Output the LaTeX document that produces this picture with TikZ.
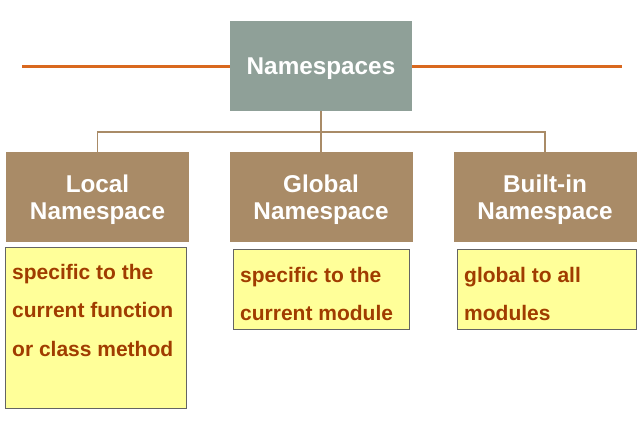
\documentclass[tikz,border=0pt]{standalone}
\usepackage{fontspec}
\setmainfont{Liberation Sans}
\usepackage{tikz}
\usetikzlibrary{positioning, calc}

\definecolor{headgray}{RGB}{143,160,152}
\definecolor{tanbrown}{RGB}{169,139,103}
\definecolor{noteyellow}{RGB}{255,255,153}
\definecolor{rustred}{RGB}{160,60,0}
\definecolor{rulecolor}{RGB}{217,104,30}

\begin{document}
\begin{tikzpicture}[x=1pt, y=-1pt,
  headbox/.style={rectangle, fill=headgray, text=white, inner sep=0pt,
    minimum width=182pt, minimum height=90pt, text depth=0pt,
    font=\bfseries\fontsize{24.3}{27}\selectfont},
  kindbox/.style={rectangle, fill=tanbrown, text=white, inner sep=0pt, align=center,
    minimum width=183pt, minimum height=90pt, text depth=0pt,
    font=\bfseries\fontsize{24.3}{27}\selectfont},
  notebox/.style={rectangle, draw={rgb,255:red,100;green,100;blue,100}, line width=1pt,
    fill=noteyellow, inner sep=0pt, anchor=north west},
  notetext/.style={anchor=north west, inner sep=0pt, align=left, text=rustred,
    font=\bfseries\fontsize{21}{38.5}\selectfont},
  link/.style={draw=tanbrown, line width=1.5pt},
  rule/.style={draw=rulecolor, line width=3pt}]
\useasboundingbox (0,0) rectangle (638,426);

% Header
\node[headbox] (ns) at (321,66) {Namespaces};
\coordinate (leftend) at (22,66);
\coordinate (rightend) at (622,66);
\draw[rule] (ns.west) -- (leftend);
\draw[rule] (ns.east) -- (rightend);

% Kinds of namespace
\node[kindbox] (local) at (97.5,197) {Local\\Namespace};
\node[kindbox] (global) at (321,197) {Global\\Namespace};
\node[kindbox] (builtin) at (545,197) {Built-in\\Namespace};

% Tree lines
\coordinate (bus) at (321,132);
\draw[link] (local.north) |- (bus) -| (builtin.north);
\draw[link] (ns.south) -- (global.north);

% Notes under each kind
\node[notebox, minimum width=181pt, minimum height=161pt] (localnote) at (5,247) {};
\node[notetext] (localtxt) at ($(localnote.north west)+(7,17)$)
  {specific to the\\current function\\or class method};

\node[notebox, minimum width=176pt, minimum height=80pt] (globalnote) at (233,249) {};
\node[notetext] (globaltxt) at ($(globalnote.north west)+(7,18)$)
  {specific to the\\current module};

\node[notebox, minimum width=179pt, minimum height=80pt] (builtinnote) at (457,249) {};
\node[notetext] (builtintxt) at ($(builtinnote.north west)+(7,18)$)
  {global to all\\modules};
\end{tikzpicture}
\end{document}
